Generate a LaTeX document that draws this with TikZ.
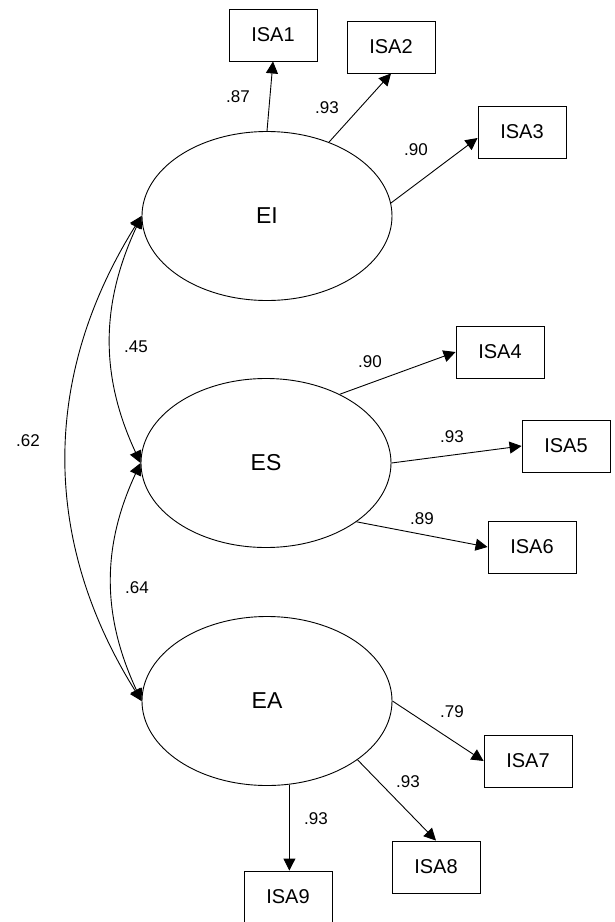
\documentclass[tikz,border=0pt]{standalone}
\usepackage{fontspec}
\setmainfont{Liberation Sans}
\usetikzlibrary{shapes.geometric,arrows.meta}
\begin{document}
\begin{tikzpicture}[x=1pt,y=1pt,
  latent/.style={draw,ellipse,line width=0.9pt,minimum width=250pt,minimum height=169pt,inner sep=0pt,font=\fontsize{23}{27}\selectfont},
  obs/.style={draw,rectangle,line width=0.9pt,minimum width=88pt,minimum height=52pt,inner sep=0pt,font=\fontsize{20}{24}\selectfont},
  load/.style={line width=0.9pt,-{Triangle[length=12pt,width=12pt]}},
  cov/.style={line width=0.9pt,{Triangle[length=12pt,width=12pt]}-{Triangle[length=12pt,width=12pt]}},
  lab/.style={font=\fontsize{17}{20}\selectfont,inner sep=0pt}]
\useasboundingbox (0,0) rectangle (614,-922);
\node[latent] (EI) at (267,-216) {EI};
\node[latent] (ES) at (266,-463) {ES};
\node[latent] (EA) at (267,-701) {EA};
\node[obs] (ISA1) at (273,-35) {ISA1};
\node[obs] (ISA2) at (391,-47) {ISA2};
\node[obs] (ISA3) at (522,-132) {ISA3};
\node[obs] (ISA4) at (500,-352) {ISA4};
\node[obs] (ISA5) at (566,-446) {ISA5};
\node[obs] (ISA6) at (532,-547) {ISA6};
\node[obs] (ISA7) at (528,-761) {ISA7};
\node[obs] (ISA8) at (436,-867) {ISA8};
\node[obs] (ISA9) at (288,-897) {ISA9};
\draw[load] (EI.90) -- (ISA1.south);
\draw[load] (EI.50) -- (ISA2.south);
\draw[load] (EI.6) -- ([yshift=-6pt]ISA3.west);
\draw[load] (ES.43) -- (ISA4.west);
\draw[load] (ES.east) -- (ISA5.west);
\draw[load] (ES.-33) -- (ISA6.west);
\draw[load] (EA.east) -- (ISA7.west);
\draw[load] (EA.-33) -- (ISA8.north);
\draw[load] (EA.-75) -- (EA.-75 |- ISA9.north);
\draw[cov] (EI.west) to[out=245,in=115] (ES.west);
\draw[cov] (ES.west) to[out=245,in=115] (EA.west);
\draw[cov] (EI.west) to[out=238,in=122] (EA.west);
\node[lab] (l1) at (238,-97) {.87};
\node[lab] (l2) at (327,-108) {.93};
\node[lab] (l3) at (416,-150) {.90};
\node[lab] (l4) at (370,-362) {.90};
\node[lab] (l5) at (452,-437) {.93};
\node[lab] (l6) at (422,-519) {.89};
\node[lab] (l7) at (452,-712) {.79};
\node[lab] (l8) at (408,-782) {.93};
\node[lab] (l9) at (316,-819) {.93};
\node[lab] (c1) at (136,-347) {.45};
\node[lab] (c2) at (137,-588) {.64};
\node[lab] (c3) at (28,-441) {.62};
\end{tikzpicture}
\end{document}
